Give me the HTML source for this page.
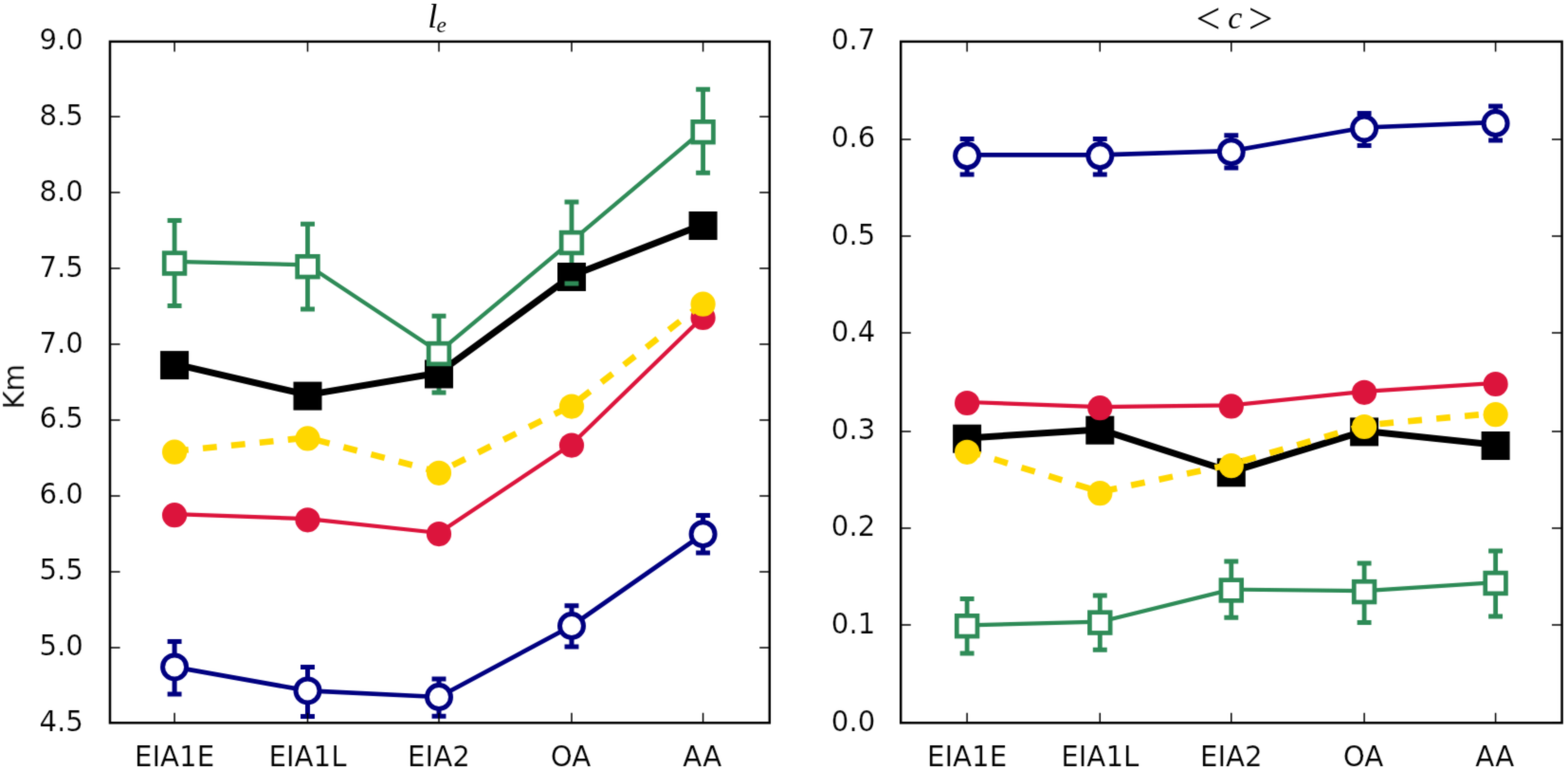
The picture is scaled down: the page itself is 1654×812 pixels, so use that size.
<!DOCTYPE html>
<html lang="en">
<head>
<meta charset="utf-8">
<title>l_e and &lt;c&gt; by group</title>
<style>
html, body { margin: 0; padding: 0; background: #ffffff; }
body { width: 1654px; height: 812px; overflow: hidden; }
svg { display: block; }
</style>
</head>
<body>
<svg width="1654" height="812" viewBox="0 0 1654 812">
<defs><filter id="soft" color-interpolation-filters="sRGB" filterUnits="userSpaceOnUse" x="0" y="0" width="1654" height="812"><feConvolveMatrix order="3" kernelMatrix="0.025 0.095 0.025 0.095 0.52 0.095 0.025 0.095 0.025" divisor="1" edgeMode="duplicate" preserveAlpha="false"/></filter></defs>
<rect x="0" y="0" width="1654" height="812" fill="#ffffff"/>
<g filter="url(#soft)">
<g class="panel">
<path d="M184.1 232.6V322.6M324.5 236.2V326M463 333.3V414M603 213V299M741.6 94.3V182.3" fill="none" stroke="#2e8b57" stroke-width="4.8"/>
<path d="M184.1 676.4V732M324.5 703.4V755.4M463 716V755.2M603 638.8V682M741.6 543.6V583" fill="none" stroke="#000080" stroke-width="5"/>
<polyline points="184.1,383.9 324.5,416.4 463,393.3 603,290.8 741.6,236.8" fill="none" stroke="#000000" stroke-width="7" stroke-linejoin="round"/>
<rect x="169.1" y="370.1" width="30" height="30" fill="#000000"/>
<rect x="309.5" y="402.6" width="30" height="30" fill="#000000"/>
<rect x="448" y="379.5" width="30" height="30" fill="#000000"/>
<rect x="588" y="277" width="30" height="30" fill="#000000"/>
<rect x="726.6" y="223" width="30" height="30" fill="#000000"/>
<polyline points="184.1,542.1 324.5,547.2 463,562 603,468.5 741.6,333.9" fill="none" stroke="#dc143c" stroke-width="4.2" stroke-linejoin="round"/>
<circle cx="184.1" cy="543.2" r="13.1" fill="#dc143c"/>
<circle cx="324.5" cy="548.3" r="13.1" fill="#dc143c"/>
<circle cx="463" cy="563.1" r="13.1" fill="#dc143c"/>
<circle cx="603" cy="469.6" r="13.1" fill="#dc143c"/>
<circle cx="741.6" cy="335" r="13.1" fill="#dc143c"/>
<polyline points="184.1,475.8 324.5,461.5 463,497.9 603,427.7 741.6,319.8" fill="none" stroke="#ffd700" stroke-width="6.6" stroke-dasharray="14.8 15.25" stroke-linejoin="round"/>
<circle cx="184.1" cy="476.7" r="13.1" fill="#ffd700"/>
<circle cx="324.5" cy="462.4" r="13.1" fill="#ffd700"/>
<circle cx="463" cy="498.8" r="13.1" fill="#ffd700"/>
<circle cx="603" cy="428.6" r="13.1" fill="#ffd700"/>
<circle cx="741.6" cy="320.7" r="13.1" fill="#ffd700"/>
<polyline points="184.1,275.8 324.5,279.4 463,371.2 603,254.2 741.6,137.4" fill="none" stroke="#2e8b57" stroke-width="4.2" stroke-linejoin="round"/>
<rect x="173.25" y="266.75" width="21.7" height="21.7" fill="#ffffff" stroke="#2e8b57" stroke-width="4.7"/>
<rect x="313.65" y="270.35" width="21.7" height="21.7" fill="#ffffff" stroke="#2e8b57" stroke-width="4.7"/>
<rect x="452.15" y="362.15" width="21.7" height="21.7" fill="#ffffff" stroke="#2e8b57" stroke-width="4.7"/>
<rect x="592.15" y="245.15" width="21.7" height="21.7" fill="#ffffff" stroke="#2e8b57" stroke-width="4.7"/>
<rect x="730.75" y="128.35" width="21.7" height="21.7" fill="#ffffff" stroke="#2e8b57" stroke-width="4.7"/>
<path d="M176.65 232.6H191.55M176.65 322.6H191.55M317.05 236.2H331.95M317.05 326H331.95M455.55 333.3H470.45M455.55 414H470.45M595.55 213H610.45M595.55 299H610.45M734.15 94.3H749.05M734.15 182.3H749.05" fill="none" stroke="#2e8b57" stroke-width="5"/>
<polyline points="184.1,703.4 324.5,728.4 463,735 603,660 741.6,563.2" fill="none" stroke="#000080" stroke-width="4.7" stroke-linejoin="round"/>
<circle cx="184.1" cy="703.4" r="12.5" fill="#ffffff" stroke="#000080" stroke-width="5"/>
<circle cx="324.5" cy="728.4" r="12.5" fill="#ffffff" stroke="#000080" stroke-width="5"/>
<circle cx="463" cy="735" r="12.5" fill="#ffffff" stroke="#000080" stroke-width="5"/>
<circle cx="603" cy="660" r="12.5" fill="#ffffff" stroke="#000080" stroke-width="5"/>
<circle cx="741.6" cy="563.2" r="12.5" fill="#ffffff" stroke="#000080" stroke-width="5"/>
<path d="M176.65 676.4H191.55M176.65 732H191.55M317.05 703.4H331.95M317.05 755.4H331.95M455.55 716H470.45M455.55 755.2H470.45M595.55 638.8H610.45M595.55 682H610.45M734.15 543.6H749.05M734.15 583H749.05" fill="none" stroke="#000080" stroke-width="5"/>
<path d="M184.1 762.3v-10.6M184.1 43.85v10.6M324.5 762.3v-10.6M324.5 43.85v10.6M463 762.3v-10.6M463 43.85v10.6M603 762.3v-10.6M603 43.85v10.6M741.6 762.3v-10.6M741.6 43.85v10.6M116 762.3h10.6M811.8 762.3h-10.6M116 683h10.6M811.8 683h-10.6M116 603h10.6M811.8 603h-10.6M116 523h10.6M811.8 523h-10.6M116 443h10.6M811.8 443h-10.6M116 363h10.6M811.8 363h-10.6M116 283h10.6M811.8 283h-10.6M116 203h10.6M811.8 203h-10.6M116 123h10.6M811.8 123h-10.6M116 43.85h10.6M811.8 43.85h-10.6" fill="none" stroke="#000" stroke-width="1.5"/>
<rect x="116" y="43.85" width="695.8" height="718.45" fill="none" stroke="#000" stroke-width="2.5"/>
<g font-family="'DejaVu Sans', 'Liberation Sans', sans-serif" font-size="29.3" fill="#000" stroke="#fff" stroke-width="0.2">
<text x="88" y="770.7" text-anchor="end">4.5</text>
<text x="88" y="690.87" text-anchor="end">5.0</text>
<text x="88" y="611.04" text-anchor="end">5.5</text>
<text x="88" y="531.22" text-anchor="end">6.0</text>
<text x="88" y="451.39" text-anchor="end">6.5</text>
<text x="88" y="371.56" text-anchor="end">7.0</text>
<text x="88" y="291.73" text-anchor="end">7.5</text>
<text x="88" y="211.91" text-anchor="end">8.0</text>
<text x="88" y="132.08" text-anchor="end">8.5</text>
<text x="88" y="52.25" text-anchor="end">9.0</text>
<text x="184.1" y="808.1" text-anchor="middle">EIA1E</text>
<text x="324.5" y="808.1" text-anchor="middle">EIA1L</text>
<text x="463" y="808.1" text-anchor="middle">EIA2</text>
<text x="602" y="808.1" text-anchor="middle">OA</text>
<text x="740.8" y="808.1" text-anchor="middle">AA</text>
</g>
</g>
<g class="panel">
<path d="M1020.1 631.6V689M1160.3 628V685.2M1298.8 592V651.2M1439.1 594V656.6M1577.6 581V650" fill="none" stroke="#2e8b57" stroke-width="4.8"/>
<path d="M1020.1 146.6V183.9M1160.3 146.6V183.9M1298.8 142.8V177M1439.1 119.5V153.6M1577.6 112V148" fill="none" stroke="#000080" stroke-width="5"/>
<polyline points="1020.1,461.9 1160.3,452.9 1298.8,497.5 1439.1,454.6 1577.6,469.2" fill="none" stroke="#000000" stroke-width="7" stroke-linejoin="round"/>
<rect x="1005.1" y="447.7" width="30" height="30" fill="#000000"/>
<rect x="1145.3" y="438.7" width="30" height="30" fill="#000000"/>
<rect x="1283.8" y="483.3" width="30" height="30" fill="#000000"/>
<rect x="1424.1" y="440.4" width="30" height="30" fill="#000000"/>
<rect x="1562.6" y="455" width="30" height="30" fill="#000000"/>
<polyline points="1020.1,424 1160.3,429.2 1298.8,427.4 1439.1,412.8 1577.6,404" fill="none" stroke="#dc143c" stroke-width="4.2" stroke-linejoin="round"/>
<circle cx="1020.1" cy="425" r="13.1" fill="#dc143c"/>
<circle cx="1160.3" cy="430.2" r="13.1" fill="#dc143c"/>
<circle cx="1298.8" cy="428.4" r="13.1" fill="#dc143c"/>
<circle cx="1439.1" cy="413.8" r="13.1" fill="#dc143c"/>
<circle cx="1577.6" cy="405" r="13.1" fill="#dc143c"/>
<polyline points="1020.1,475.3 1160.3,518.7 1298.8,489.7 1439.1,448.5 1577.6,435.7" fill="none" stroke="#ffd700" stroke-width="6.6" stroke-dasharray="14.8 15.25" stroke-linejoin="round"/>
<circle cx="1020.1" cy="476.8" r="13.1" fill="#ffd700"/>
<circle cx="1160.3" cy="520.2" r="13.1" fill="#ffd700"/>
<circle cx="1298.8" cy="491.2" r="13.1" fill="#ffd700"/>
<circle cx="1439.1" cy="450" r="13.1" fill="#ffd700"/>
<circle cx="1577.6" cy="437.2" r="13.1" fill="#ffd700"/>
<polyline points="1020.1,659.3 1160.3,655.7 1298.8,621.6 1439.1,623.2 1577.6,614.1" fill="none" stroke="#2e8b57" stroke-width="4.2" stroke-linejoin="round"/>
<rect x="1009.25" y="649.35" width="21.7" height="21.7" fill="#ffffff" stroke="#2e8b57" stroke-width="4.7"/>
<rect x="1149.45" y="645.75" width="21.7" height="21.7" fill="#ffffff" stroke="#2e8b57" stroke-width="4.7"/>
<rect x="1287.95" y="611.65" width="21.7" height="21.7" fill="#ffffff" stroke="#2e8b57" stroke-width="4.7"/>
<rect x="1428.25" y="613.25" width="21.7" height="21.7" fill="#ffffff" stroke="#2e8b57" stroke-width="4.7"/>
<rect x="1566.75" y="604.15" width="21.7" height="21.7" fill="#ffffff" stroke="#2e8b57" stroke-width="4.7"/>
<path d="M1012.65 631.6H1027.55M1012.65 689H1027.55M1152.85 628H1167.75M1152.85 685.2H1167.75M1291.35 592H1306.25M1291.35 651.2H1306.25M1431.65 594H1446.55M1431.65 656.6H1446.55M1570.15 581H1585.05M1570.15 650H1585.05" fill="none" stroke="#2e8b57" stroke-width="5"/>
<polyline points="1020.1,163.3 1160.3,163.3 1298.8,159.2 1439.1,134.5 1577.6,129" fill="none" stroke="#000080" stroke-width="4.7" stroke-linejoin="round"/>
<circle cx="1020.1" cy="164.3" r="12.5" fill="#ffffff" stroke="#000080" stroke-width="5"/>
<circle cx="1160.3" cy="164.3" r="12.5" fill="#ffffff" stroke="#000080" stroke-width="5"/>
<circle cx="1298.8" cy="160.2" r="12.5" fill="#ffffff" stroke="#000080" stroke-width="5"/>
<circle cx="1439.1" cy="135.5" r="12.5" fill="#ffffff" stroke="#000080" stroke-width="5"/>
<circle cx="1577.6" cy="130" r="12.5" fill="#ffffff" stroke="#000080" stroke-width="5"/>
<path d="M1012.65 146.6H1027.55M1012.65 183.9H1027.55M1152.85 146.6H1167.75M1152.85 183.9H1167.75M1291.35 142.8H1306.25M1291.35 177H1306.25M1431.65 119.5H1446.55M1431.65 153.6H1446.55M1570.15 112H1585.05M1570.15 148H1585.05" fill="none" stroke="#000080" stroke-width="5"/>
<path d="M1020.1 762.3v-10.6M1020.1 43.85v10.6M1160.3 762.3v-10.6M1160.3 43.85v10.6M1298.8 762.3v-10.6M1298.8 43.85v10.6M1439.1 762.3v-10.6M1439.1 43.85v10.6M1577.6 762.3v-10.6M1577.6 43.85v10.6M950.2 762.3h10.6M1647.6 762.3h-10.6M950.2 659h10.6M1647.6 659h-10.6M950.2 557h10.6M1647.6 557h-10.6M950.2 455h10.6M1647.6 455h-10.6M950.2 351h10.6M1647.6 351h-10.6M950.2 249h10.6M1647.6 249h-10.6M950.2 147h10.6M1647.6 147h-10.6M950.2 43.85h10.6M1647.6 43.85h-10.6" fill="none" stroke="#000" stroke-width="1.5"/>
<rect x="950.2" y="43.85" width="697.4" height="718.45" fill="none" stroke="#000" stroke-width="2.5"/>
<g font-family="'DejaVu Sans', 'Liberation Sans', sans-serif" font-size="29.3" fill="#000" stroke="#fff" stroke-width="0.2">
<text x="923.4" y="770.7" text-anchor="end">0.0</text>
<text x="923.4" y="668.06" text-anchor="end">0.1</text>
<text x="923.4" y="565.43" text-anchor="end">0.2</text>
<text x="923.4" y="462.79" text-anchor="end">0.3</text>
<text x="923.4" y="360.16" text-anchor="end">0.4</text>
<text x="923.4" y="257.52" text-anchor="end">0.5</text>
<text x="923.4" y="154.89" text-anchor="end">0.6</text>
<text x="923.4" y="52.25" text-anchor="end">0.7</text>
<text x="1020.1" y="808.1" text-anchor="middle">EIA1E</text>
<text x="1160.3" y="808.1" text-anchor="middle">EIA1L</text>
<text x="1298.8" y="808.1" text-anchor="middle">EIA2</text>
<text x="1438.1" y="808.1" text-anchor="middle">OA</text>
<text x="1576.8" y="808.1" text-anchor="middle">AA</text>
</g>
</g>
<text transform="translate(25.1 407.8) rotate(-90)" text-anchor="middle" font-family="'DejaVu Sans', 'Liberation Sans', sans-serif" font-size="29.3" fill="#000" stroke="#fff" stroke-width="0.2">Km</text>
<g fill="#000">
<text x="451.3" y="28.6" font-family="'Liberation Serif', 'DejaVu Serif', serif" font-style="italic" font-size="36">l</text>
<text x="460.6" y="33.8" font-family="'Liberation Serif', 'DejaVu Serif', serif" font-style="italic" font-size="23.5">e</text>
<text x="1274.5" y="35" font-family="'Liberation Serif', 'DejaVu Serif', serif" font-size="46" text-anchor="middle">&lt;</text>
<text x="1302.7" y="30.1" font-family="'Liberation Serif', 'DejaVu Serif', serif" font-style="italic" font-size="34" text-anchor="middle">c</text>
<text x="1329.8" y="35" font-family="'Liberation Serif', 'DejaVu Serif', serif" font-size="46" text-anchor="middle">&gt;</text>
</g>
</g>
</svg>
</body>
</html>
